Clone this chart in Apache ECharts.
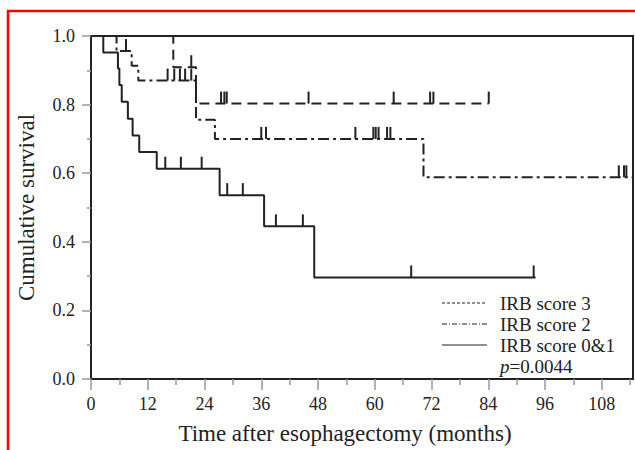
<!DOCTYPE html>
<html>
<head>
<meta charset="utf-8">
<script src="https://cdn.jsdelivr.net/npm/echarts@6/dist/echarts.min.js"></script>
<style>
html,body{margin:0;padding:0;background:#fff;}
#chart{width:635px;height:450px;}
</style>
</head>
<body>
<div id="chart"></div>
<script>
// ---- data ----
const xTickLabels = [0, 12, 24, 36, 48, 60, 72, 84, 96, 108];
const xMinorTicks = [6, 18, 30, 42, 54, 66, 78, 90, 102, 114];
const yTickLabels = [0.0, 0.2, 0.4, 0.6, 0.8, 1.0];

const irb3Name = 'IRB score 3';
const irb3Time = [0, 17.4, 22.2, 84.1];
const irb3Surv = [1, 0.909, 0.803, 0.803];
const irb3Censor = [21.2, 27.5, 28.2, 28.7, 46.0, 64.0, 71.7, 72.4, 84.1];

const irb2Name = 'IRB score 2';
const irb2Time = [0, 5.4, 8.6, 10.0, 22.2, 26.2, 70.3, 114.6];
const irb2Surv = [1, 0.956, 0.913, 0.870, 0.756, 0.700, 0.588, 0.588];
const irb2Censor = [7.4, 16.2, 17.6, 18.8, 19.9, 21.2, 36.0, 37.0, 55.9, 59.7, 60.2, 60.8, 62.6, 63.3, 111.6, 112.7, 113.2];

const irb01Name = 'IRB score 0&1';
const irb01Time = [0, 2.6, 5.7, 6.0, 6.5, 7.8, 8.8, 10.2, 13.9, 27.2, 36.6, 47.2, 94.0];
const irb01Surv = [1, 0.952, 0.905, 0.857, 0.808, 0.759, 0.710, 0.662, 0.613, 0.536, 0.445, 0.296, 0.296];
const irb01Censor = [15.7, 19.0, 23.4, 28.8, 32.1, 39.1, 44.8, 67.7, 93.6];

const pValueText = '0.0044';
const xTitle = 'Time after esophagectomy (months)';
const yTitle = 'Cumulative survival';
// --------------------------------------

const FONT = '"Liberation Serif", "DejaVu Serif", serif';
const INK = '#222';
const X_MAX = 114.6;

function pairs(ts, ss) { return ts.map((t, i) => [t, ss[i]]); }
function levelAt(ts, ss, t) {
  let v = ss[0];
  for (let i = 0; i < ts.length; i++) { if (ts[i] <= t) v = ss[i]; }
  return v;
}
function censorData(cs, ts, ss) { return cs.map(t => [t, levelAt(ts, ss, t)]); }

function kmLine(name, ts, ss, type) {
  return {
    name: name, type: 'line', step: 'end', data: pairs(ts, ss),
    showSymbol: false, symbol: 'none', silent: true, animation: false,
    lineStyle: { color: INK, width: 2, type: type },
    z: 3
  };
}
function censorSeries(name, cs, ts, ss) {
  return {
    name: name + ' censored', type: 'custom', data: censorData(cs, ts, ss),
    encode: { x: 0, y: 1 }, silent: true, animation: false, z: 4,
    renderItem: function (params, api) {
      const p = api.coord([api.value(0), api.value(1)]);
      return { type: 'line', shape: { x1: p[0], y1: p[1], x2: p[0], y2: p[1] - 12 },
               style: { stroke: INK, lineWidth: 2 } };
    }
  };
}

const chart = echarts.init(document.getElementById('chart'), null, { renderer: 'svg' });

const legendX1 = 442, legendX2 = 487, legendTextX = 500;
const legendRows = [
  { y: 303, name: irb3Name, dash: [3, 2] },
  { y: 324, name: irb2Name, dash: [5, 2, 1, 2] },
  { y: 345, name: irb01Name, dash: null }
];
const legendGraphics = [];
legendRows.forEach(r => {
  legendGraphics.push({
    type: 'line', shape: { x1: legendX1, y1: r.y, x2: legendX2, y2: r.y },
    style: { stroke: INK, lineWidth: 1, lineDash: r.dash }, silent: true, z: 10
  });
  legendGraphics.push({
    type: 'text', x: legendTextX, y: r.y,
    style: { text: r.name, font: '19px ' + FONT, fill: INK, verticalAlign: 'middle' },
    silent: true, z: 10
  });
});
legendGraphics.push({
  type: 'text', x: legendTextX, y: 366,
  style: {
    text: '{i|p}=' + pValueText, verticalAlign: 'middle',
    font: '19px ' + FONT, fill: INK,
    rich: { i: { fontStyle: 'italic', fontFamily: FONT, fontSize: 19, fill: INK } }
  },
  silent: true, z: 10
});

const option = {
  animation: false,
  backgroundColor: '#fff',
  grid: { left: 91, right: 2, top: 36, bottom: 65, show: true, borderColor: '#222', borderWidth: 2, backgroundColor: 'transparent' },
  xAxis: [
    {
      type: 'value', min: 0, max: X_MAX, interval: 12, position: 'bottom',
      name: xTitle, nameLocation: 'middle', nameGap: 43,
      nameTextStyle: { fontFamily: FONT, fontSize: 23, color: INK, padding: [0, 34, 0, 0] },
      axisLine: { show: false },
      axisTick: { show: true, customValues: xTickLabels, length: 11, lineStyle: { color: '#999', width: 1.5 } },
      axisLabel: { customValues: xTickLabels, margin: 16, fontFamily: FONT, fontSize: 18, color: INK },
      splitLine: { show: false }
    },
    {
      type: 'value', min: 0, max: X_MAX, position: 'bottom', gridIndex: 0,
      axisLine: { show: false },
      axisTick: { show: true, customValues: xMinorTicks, length: 6, lineStyle: { color: '#999', width: 1.5 } },
      axisLabel: { show: false },
      splitLine: { show: false }
    }
  ],
  yAxis: {
    type: 'value', min: 0, max: 1, interval: 0.2,
    name: yTitle, nameLocation: 'middle', nameGap: 53,
    nameTextStyle: { fontFamily: FONT, fontSize: 23, color: INK },
    axisLine: { show: false },
    axisTick: { show: true, length: 9, lineStyle: { color: '#999', width: 1.5 } },
    minorTick: { show: true, splitNumber: 2, length: 4, lineStyle: { color: '#999', width: 1.5 } },
    axisLabel: { margin: 16, fontFamily: FONT, fontSize: 18, color: INK,
                 formatter: v => (yTickLabels.indexOf(Math.round(v * 10) / 10) >= 0 ? v.toFixed(1) : '') },
    splitLine: { show: false }, minorSplitLine: { show: false }
  },
  graphic: [
    { type: 'rect', shape: { x: 8, y: 11, width: 700, height: 600 }, style: { stroke: '#ff0000', lineWidth: 2.5, fill: 'none' }, silent: true, z: 20 }
  ].concat(legendGraphics),
  series: [
    kmLine(irb3Name, irb3Time, irb3Surv, [10, 6]),
    kmLine(irb2Name, irb2Time, irb2Surv, [11, 4, 3, 4]),
    kmLine(irb01Name, irb01Time, irb01Surv, 'solid'),
    censorSeries(irb3Name, irb3Censor, irb3Time, irb3Surv),
    censorSeries(irb2Name, irb2Censor, irb2Time, irb2Surv),
    censorSeries(irb01Name, irb01Censor, irb01Time, irb01Surv)
  ]
};
chart.setOption(option);
</script>
</body>
</html>
